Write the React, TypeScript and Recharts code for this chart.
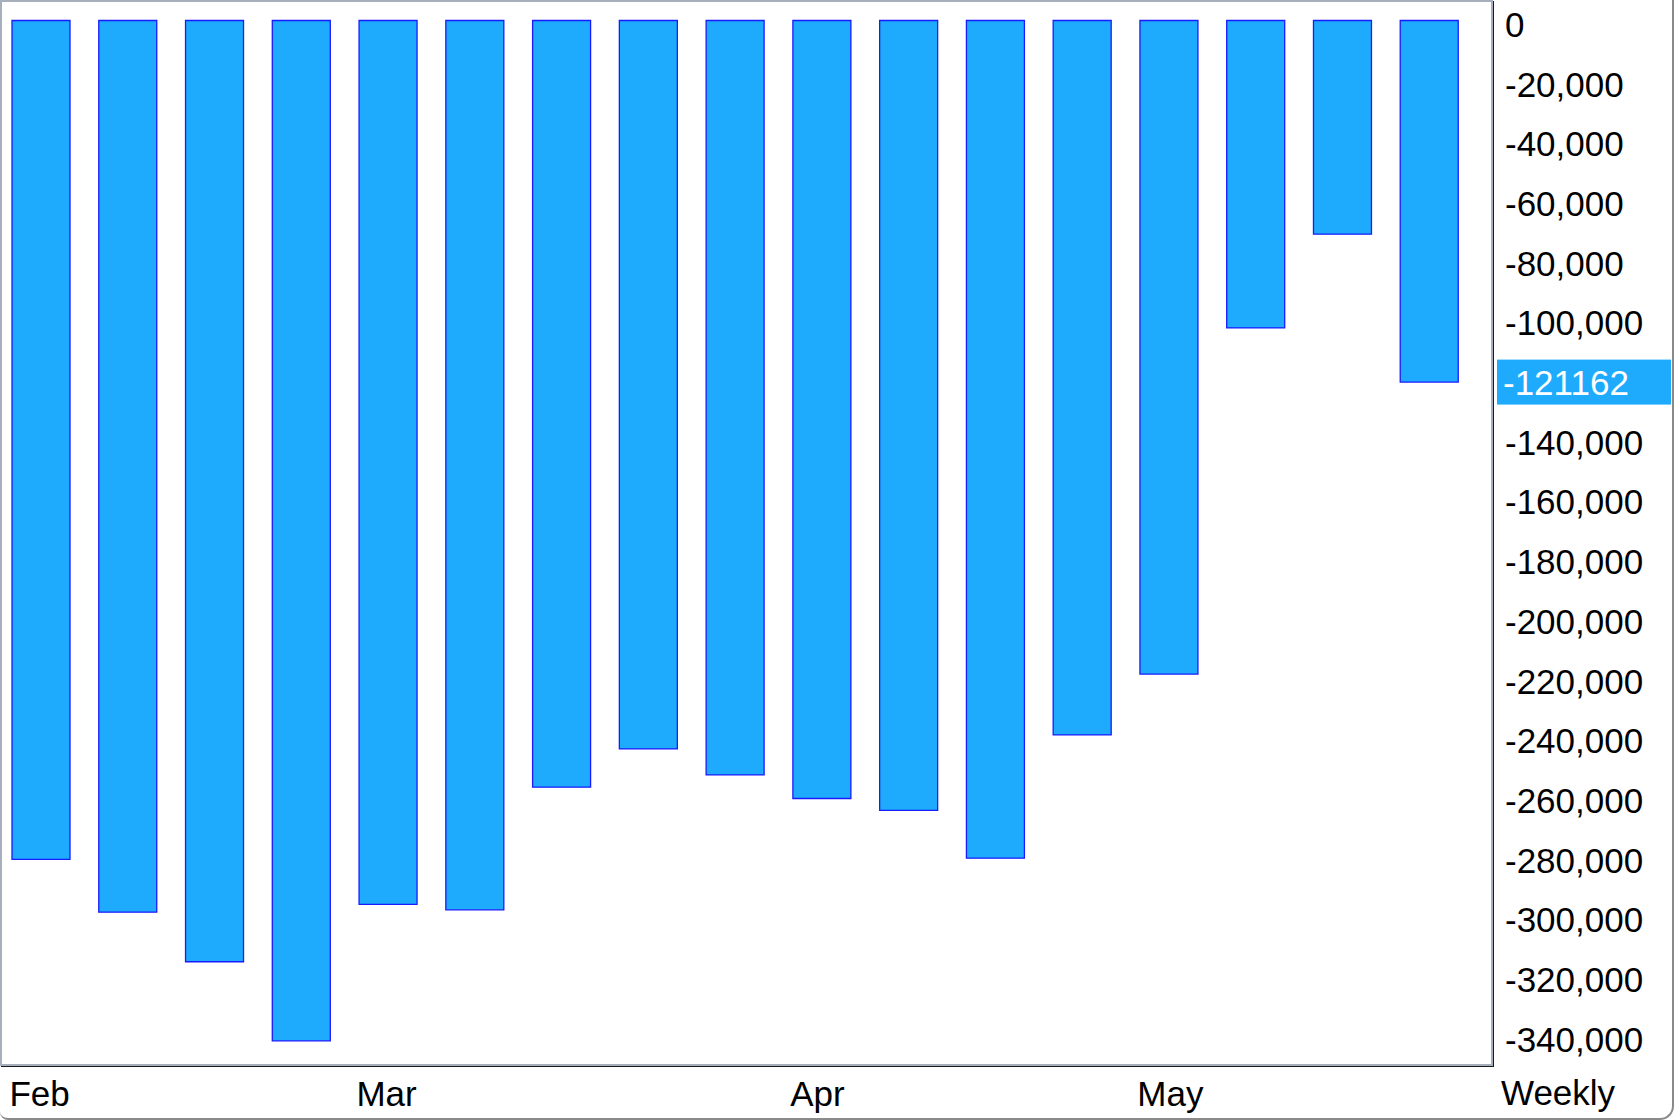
import React from 'react';
import { BarChart, Bar, XAxis, YAxis } from 'recharts';

// weekly closing dates (Feb - May)
const weeks = [
  'Feb 02', 'Feb 09', 'Feb 16', 'Feb 23',
  'Mar 01', 'Mar 08', 'Mar 15', 'Mar 22', 'Mar 29',
  'Apr 05', 'Apr 12', 'Apr 19', 'Apr 26',
  'May 03', 'May 10', 'May 17', 'May 24',
];

const netPositions = [
  -281100, -298800, -315400, -341900,
  -296200, -298000, -256900, -244100, -252800,
  -260700, -264700, -280700, -239400,
  -219000, -103000, -71600, -121162,
];

const lastValue = -121162;

const yTicks = [
  0, -20000, -40000, -60000, -80000, -100000, lastValue, -140000, -160000,
  -180000, -200000, -220000, -240000, -260000, -280000, -300000, -320000, -340000,
];

const data = weeks.map((week, i) => ({ week, value: netPositions[i] }));

const FONT = '"Liberation Sans", Arial, sans-serif';
const BAR_FILL = '#1EABFE';

const MonthTick = (props: any) => {
  const { x, y, index } = props;
  const month = weeks[index].slice(0, 3);
  const prev = index > 0 ? weeks[index - 1].slice(0, 3) : '';
  if (month === prev) return null;
  return (
    <text x={x - 32} y={y} dy={33} textAnchor="start" fontSize={35} fontFamily={FONT} fill="#000">
      {month}
    </text>
  );
};

const ValueTick = (props: any) => {
  const { x, y, payload } = props;
  if (payload.value === lastValue) {
    return (
      <g>
        <rect x={x - 8} y={y - 22.5} width={174} height={45} fill={BAR_FILL} />
        <text x={x - 2} y={y} dy={13} textAnchor="start" fontSize={35} fontFamily={FONT} fill="#fff">
          {String(lastValue)}
        </text>
      </g>
    );
  }
  return (
    <text x={x} y={y} dy={16.5} textAnchor="start" fontSize={35} fontFamily={FONT} fill="#000">
      {payload.value.toLocaleString('en-US')}
    </text>
  );
};

export default function App() {
  return (
    <div
      style={{
        position: 'absolute',
        left: 0,
        top: 0,
        width: 1674,
        height: 1120,
        background: '#fff',
        boxSizing: 'border-box',
        borderRight: '2px solid #8a8a8a',
        borderBottom: '2px solid #8a8a8a',
        borderBottomRightRadius: 14,
        borderBottomLeftRadius: 8,
        overflow: 'hidden',
      }}
    >
      <div
        style={{
          position: 'absolute',
          left: 0,
          top: 0,
          width: 1493,
          height: 1066,
          boxSizing: 'border-box',
          border: '2px solid #a7afbc',
          boxShadow: '1px 1px 0 #1a1a1a',
        }}
      />
      <div style={{ position: 'absolute', left: 0, top: 0 }}>
        <BarChart
          width={1674}
          height={1120}
          data={data}
          margin={{ top: 1, right: 0, bottom: 0, left: -2 }}
        >
          <XAxis
            dataKey="week"
            type="category"
            height={55}
            axisLine={false}
            tickLine={false}
            interval={0}
            padding={{ left: 0, right: 19 }}
            tick={<MonthTick />}
          />
          <YAxis
            orientation="right"
            width={182}
            domain={[-350000, 6540]}
            ticks={yTicks}
            interval={0}
            axisLine={false}
            tickLine={false}
            tickSize={6}
            tickMargin={7}
            tick={<ValueTick />}
          />
          <Bar
            dataKey="value"
            fill={BAR_FILL}
            stroke="#1a1aff"
            strokeWidth={1.3}
            barSize={58}
            isAnimationActive={false}
          />
        </BarChart>
      </div>
      <div
        style={{
          position: 'absolute',
          left: 1501,
          top: 1073,
          fontFamily: FONT,
          fontSize: 35,
          lineHeight: '40px',
          color: '#000',
        }}
      >
        Weekly
      </div>
    </div>
  );
}
